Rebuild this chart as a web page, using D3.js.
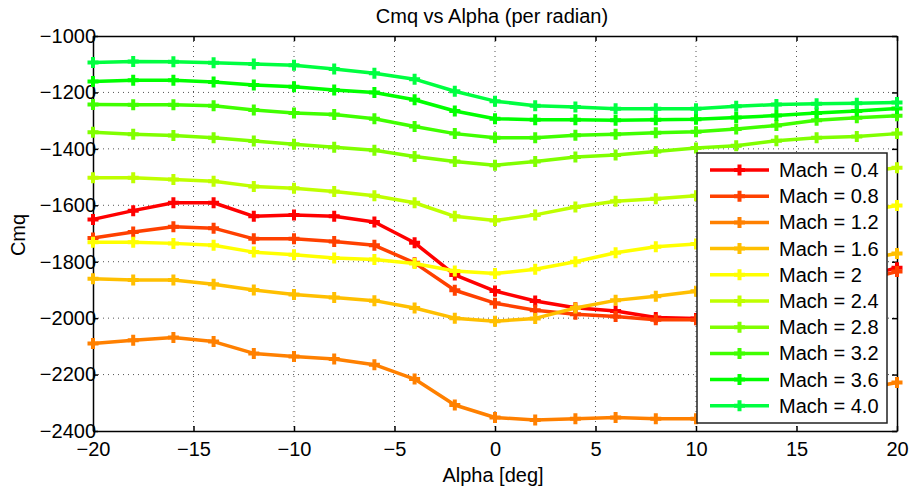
<!DOCTYPE html>
<html>
<head>
<meta charset="utf-8">
<script src="https://cdn.jsdelivr.net/npm/d3@7"></script>
<style>
  body { margin: 0; background: #fff; }
  svg { font-family: "Liberation Sans", Arial, sans-serif; }
  .grid line { stroke: #555; stroke-width: 1; stroke-dasharray: 1,4; }
  .axis path, .axis line { stroke: #000; stroke-width: 1.5; }
  .axis text { font-size: 20px; fill: #000; }
</style>
</head>
<body>
<svg id="chart" width="915" height="492"></svg>
<script>
// Alpha values (deg)
const alpha = [-20, -18, -16, -14, -12, -10, -8, -6, -4, -2, 0, 2, 4, 6, 8, 10, 12, 14, 16, 18, 20];

// Mach numbers (legend order)
const machLabels = ['0.4', '0.8', '1.2', '1.6', '2', '2.4', '2.8', '3.2', '3.6', '4.0'];

// Cmq per radian, one array per Mach number
const cmqM04 = [-1650, -1619, -1591, -1591, -1639, -1634, -1639, -1659, -1733, -1847, -1904, -1939, -1963, -1975, -1998, -2001, -1985, -1950, -1900, -1860, -1821];
const cmqM08 = [-1716, -1695, -1676, -1681, -1719, -1719, -1728, -1742, -1804, -1901, -1947, -1972, -1986, -1994, -2006, -2006, -1990, -1960, -1915, -1870, -1835];
const cmqM12 = [-2090, -2078, -2069, -2083, -2125, -2136, -2145, -2165, -2216, -2308, -2352, -2361, -2357, -2352, -2357, -2357, -2340, -2310, -2280, -2255, -2228];
const cmqM16 = [-1860, -1865, -1865, -1880, -1900, -1916, -1927, -1938, -1964, -2000, -2011, -2001, -1964, -1937, -1922, -1905, -1880, -1850, -1820, -1795, -1771];
const cmqM20 = [-1731, -1731, -1735, -1742, -1766, -1775, -1787, -1792, -1806, -1833, -1842, -1827, -1800, -1768, -1747, -1737, -1710, -1680, -1650, -1625, -1601];
const cmqM24 = [-1502, -1502, -1509, -1515, -1533, -1540, -1551, -1566, -1591, -1639, -1654, -1634, -1606, -1586, -1577, -1566, -1550, -1530, -1505, -1485, -1467];
const cmqM28 = [-1341, -1348, -1353, -1361, -1372, -1384, -1394, -1405, -1427, -1445, -1458, -1445, -1429, -1422, -1409, -1397, -1389, -1371, -1361, -1356, -1346];
const cmqM32 = [-1243, -1244, -1244, -1247, -1262, -1273, -1278, -1293, -1321, -1346, -1361, -1361, -1352, -1348, -1343, -1339, -1330, -1317, -1299, -1290, -1283];
const cmqM36 = [-1161, -1157, -1157, -1163, -1174, -1180, -1191, -1200, -1226, -1266, -1293, -1297, -1297, -1299, -1297, -1295, -1289, -1282, -1273, -1266, -1257];
const cmqM40 = [-1094, -1090, -1091, -1095, -1099, -1104, -1117, -1132, -1153, -1196, -1231, -1247, -1252, -1258, -1258, -1258, -1249, -1243, -1240, -1238, -1236];

const seriesValues = [cmqM04, cmqM08, cmqM12, cmqM16, cmqM20, cmqM24, cmqM28, cmqM32, cmqM36, cmqM40];

// Tick values
const xTicks = [-20, -15, -10, -5, 0, 5, 10, 15, 20];
const yTicks = [-2400, -2200, -2000, -1800, -1600, -1400, -1200, -1000];

// Colours: hue steps from red to spring green
const colors = ['#ff0000', '#ff4000', '#ff8000', '#ffbf00', '#ffff00', '#bfff00', '#80ff00', '#40ff00', '#00ff00', '#00ff40'];

const margin = { top: 36, right: 18, bottom: 61, left: 93 };
const svg = d3.select('#chart');
const width = 915 - margin.left - margin.right;
const height = 492 - margin.top - margin.bottom;

const g = svg.append('g').attr('transform', `translate(${margin.left},${margin.top})`);

const x = d3.scaleLinear().domain([-20, 20]).range([0, width]);
const y = d3.scaleLinear().domain([-2400, -1000]).range([height, 0]);
const fmt = d3.format('d');

// Grid (dotted, inner ticks only)
const grid = g.append('g').attr('class', 'grid');
grid.selectAll('.gx').data(xTicks.slice(1, -1)).join('line')
    .attr('x1', d => x(d)).attr('x2', d => x(d))
    .attr('y1', 0).attr('y2', height);
grid.selectAll('.gy').data(yTicks.slice(1, -1)).join('line')
    .attr('x1', 0).attr('x2', width)
    .attr('y1', d => y(d)).attr('y2', d => y(d));

// Axes (ticks pointing inward on all sides)
g.append('g').attr('class', 'axis')
    .attr('transform', `translate(0,${height})`)
    .call(d3.axisBottom(x).tickValues(xTicks).tickFormat(fmt).tickSize(-5).tickPadding(11).tickSizeOuter(0));
g.append('g').attr('class', 'axis')
    .call(d3.axisTop(x).tickValues(xTicks).tickSize(-5).tickFormat('').tickSizeOuter(0));
g.append('g').attr('class', 'axis')
    .call(d3.axisLeft(y).tickValues(yTicks).tickFormat(fmt).tickSize(-5).tickPadding(-3).tickSizeOuter(0));
g.append('g').attr('class', 'axis')
    .attr('transform', `translate(${width},0)`)
    .call(d3.axisRight(y).tickValues(yTicks).tickSize(-5).tickFormat('').tickSizeOuter(0));

// Series
const line = d3.line().x(d => x(d[0])).y(d => y(d[1]));
const plusPath = 'M-5.5,0H5.5M0,-5.5V5.5';

seriesValues.forEach((vals, i) => {
    const pts = alpha.map((a, j) => [a, vals[j]]);
    g.append('path')
        .datum(pts)
        .attr('fill', 'none')
        .attr('stroke', colors[i])
        .attr('stroke-width', 3.5)
        .attr('stroke-linejoin', 'round')
        .attr('d', line);
    g.append('g').selectAll('path').data(pts).join('path')
        .attr('transform', d => `translate(${x(d[0])},${y(d[1])})`)
        .attr('d', plusPath)
        .attr('stroke', colors[i])
        .attr('stroke-width', 4);
});

// Title and labels
svg.append('text')
    .attr('x', 492).attr('y', 23)
    .attr('text-anchor', 'middle')
    .style('font-size', '20px')
    .text('Cmq vs Alpha (per radian)');
svg.append('text')
    .attr('x', 493).attr('y', 482)
    .attr('text-anchor', 'middle')
    .style('font-size', '20px')
    .text('Alpha [deg]');
svg.append('text')
    .attr('transform', 'translate(25,235) rotate(-90)')
    .attr('text-anchor', 'middle')
    .style('font-size', '20px')
    .text('Cmq');

// Legend
const legend = svg.append('g').attr('transform', 'translate(697,153)');
legend.append('rect')
    .attr('width', 190).attr('height', 270)
    .attr('fill', '#fff')
    .attr('stroke', '#222')
    .attr('stroke-width', 1.5);
machLabels.forEach((m, i) => {
    const ly = 17 + i * 26.2;
    const row = legend.append('g').attr('transform', `translate(0,${ly})`);
    row.append('line')
        .attr('x1', 13).attr('x2', 72)
        .attr('stroke', colors[i]).attr('stroke-width', 3.5);
    row.append('path')
        .attr('transform', 'translate(42.5,0)')
        .attr('d', plusPath)
        .attr('stroke', colors[i]).attr('stroke-width', 4);
    row.append('text')
        .attr('x', 82).attr('y', 7)
        .style('font-size', '20px')
        .text('Mach = ' + m);
});
</script>
</body>
</html>
